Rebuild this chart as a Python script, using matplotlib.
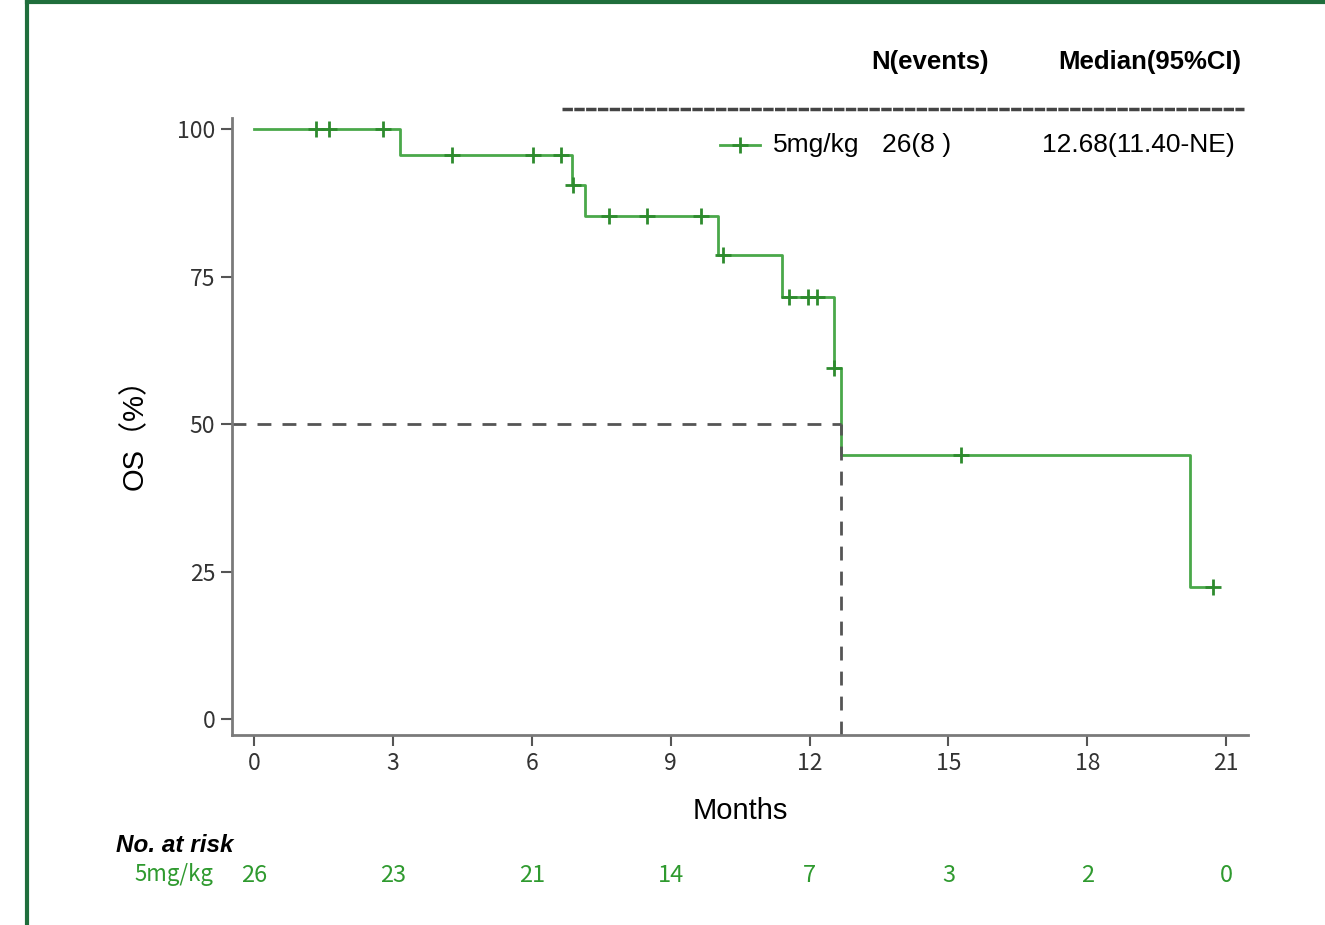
import matplotlib.pyplot as plt
import matplotlib.transforms as mtransforms
from matplotlib.lines import Line2D
import numpy as np

# data (months, OS %)
step_times = [0, 3.15, 6.87, 7.15, 10.02, 11.41, 12.53, 12.68, 20.22, 20.72]
step_surv = [100, 95.65, 90.6, 85.3, 78.7, 71.6, 59.6, 44.7, 22.35, 22.35]
censor_times = [1.34, 1.62, 2.79, 4.28, 6.03, 6.63, 6.90, 7.67, 8.49, 9.66,
                10.13, 11.56, 11.97, 12.16, 12.53, 15.27, 20.72]
censor_surv = [100, 100, 100, 95.65, 95.65, 95.65, 90.6, 85.3, 85.3, 85.3,
               78.7, 71.6, 71.6, 71.6, 59.6, 44.7, 22.35]
median_os = 12.68

risk_times = [0, 3, 6, 9, 12, 15, 18, 21]
risk_counts = [26, 23, 21, 14, 7, 3, 2, 0]
group = "5mg/kg"
n_events = "26(8 )"
median_ci = "12.68(11.40-NE)"

line_green = "#4aa84a"
mark_green = "#2e8b2e"
text_green = "#2f9a2f"
axis_gray = "#7a7a7a"

fig = plt.figure(figsize=(13.25, 9.25), dpi=100)
ax = fig.add_axes([232/1325, 1-735/925, (1248-232)/1325, (735-118)/925])

ax.step(step_times, step_surv, where="post", color=line_green, lw=2)
ax.plot(censor_times, censor_surv, ls="none", marker="+", ms=11, mew=2, color=mark_green)

# median reference lines
ax.plot([-0.475, median_os], [50, 50], ls=(0, (5, 4)), color="#555555", lw=2)
ax.plot([median_os, median_os], [-2.7, 50], ls=(0, (5, 4)), color="#555555", lw=2)

ax.set_xlim(-0.475, 21.47)
ax.set_ylim(-2.7, 101.9)
ax.set_xticks(risk_times)
ax.set_yticks([0, 25, 50, 75, 100])
for s in ["top", "right"]:
    ax.spines[s].set_visible(False)
for s in ["left", "bottom"]:
    ax.spines[s].set_color(axis_gray)
    ax.spines[s].set_linewidth(2)
ax.tick_params(length=8, width=1.5, color="#555555", labelsize=16.5, labelcolor="#333333", pad=4)
for lab in ax.get_xticklabels() + ax.get_yticklabels():
    lab.set_family("Noto Sans CJK SC")

ax.set_xlabel("Months", fontsize=21, family="Liberation Sans", labelpad=16)
ax.set_ylabel("OS（%）", fontsize=21, family=["Liberation Sans", "Noto Sans CJK SC"], labelpad=20)

# legend table at top
fig.text(930/1325, 1-62/925, "N(events)", ha="center", va="center", fontsize=18.5,
         fontweight="bold", family="Liberation Sans")
fig.text(1150/1325, 1-62/925, "Median(95%CI)", ha="center", va="center", fontsize=18.5,
         fontweight="bold", family="Liberation Sans")
fig.add_artist(Line2D([562/1325, 1244/1325], [1-109/925, 1-109/925], color="#444444", lw=2.5,
                      ls=(0, (3, 0.4))))
fig.add_artist(Line2D([720/1325, 760/1325], [1-145/925, 1-145/925], color=line_green, lw=2))
fig.add_artist(Line2D([740/1325], [1-145/925], color=mark_green, marker="+", ms=11, mew=2, ls="none"))
fig.text(773/1325, 1-145/925, group, ha="left", va="center", fontsize=19, family="Liberation Sans")
fig.text(882/1325, 1-145/925, n_events, ha="left", va="center", fontsize=19, family="Liberation Sans")
fig.text(1235/1325, 1-145/925, median_ci, ha="right", va="center", fontsize=19, family="Liberation Sans")

# number at risk
fig.text(116/1325, 1-846/925, "No. at risk", ha="left", va="center", fontsize=17.5,
         fontweight="bold", fontstyle="italic", family="Liberation Sans")
fig.text(213/1325, 1-875/925, group, ha="right", va="center", fontsize=16, color=text_green,
         family="Noto Sans CJK SC")
trans = mtransforms.blended_transform_factory(ax.transData, fig.transFigure)
for t, n in zip(risk_times, risk_counts):
    ax.text(t, 1-875/925, str(n), transform=trans, ha="center", va="center", fontsize=17,
            color=text_green, family="Noto Sans CJK SC")

# green frame lines
frame = "#1f6e3c"
fig.add_artist(Line2D([27/1325, 27/1325], [0, 1], color=frame, lw=3))
fig.add_artist(Line2D([27/1325, 1], [1-1.5/925, 1-1.5/925], color=frame, lw=3))

fig.savefig("out.png", dpi=100)
